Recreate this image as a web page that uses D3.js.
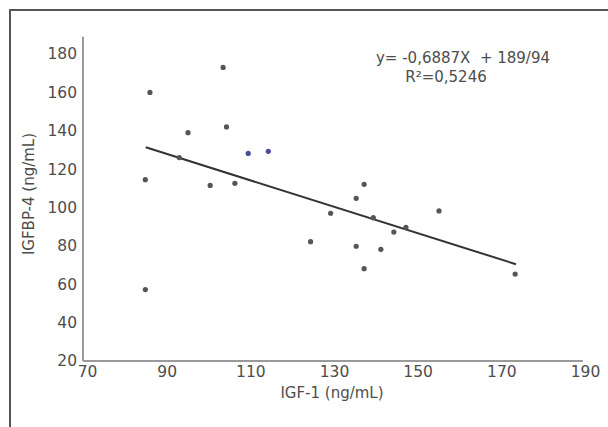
<!DOCTYPE html>
<html>
<head>
<meta charset="utf-8">
<script src="https://cdn.jsdelivr.net/npm/d3@7"></script>
<style>
    body { margin: 0; background: #fff; }
    svg { display: block; }
    text { font-family: "DejaVu Sans", Verdana, sans-serif; fill: #4d4d4d; }
</style>
</head>
<body>
<div id="chart"></div>
<script>
// IGF-1 vs IGFBP-4 values
const igf1 = [86, 103.5, 104.3, 95.1, 93, 84.9, 100.4, 106.3, 84.9, 124.4, 129.2,
    135.3, 137.2, 139.4, 155.1, 147.2, 144.3, 135.3, 141.2, 137.2, 173.3];
const igfbp4 = [160, 173, 142, 139, 126, 114.5, 111.5, 112.6, 57.2, 82.2, 97,
    104.8, 112.1, 94.7, 98.2, 89.7, 87.2, 79.8, 78.2, 68.1, 65.3];
// two points drawn in blue
const igf1Blue = [109.5, 114.3];
const igfbp4Blue = [128.2, 129.3];

const xTicks = [70, 90, 110, 130, 150, 170, 190];
const yTicks = [20, 40, 60, 80, 100, 120, 140, 160, 180];

const slope = -0.6887;
const intercept = 189.94;
const fitRange = [85, 173.5];
const eqLabel = 'y= -0,6887X  + 189/94';
const r2Label = 'R²=0,5246';

const width = 608, height = 427;

const svg = d3.select('#chart')
    .append('svg')
    .attr('width', width)
    .attr('height', height);

// outer frame (runs off the right and bottom)
svg.append('rect')
    .attr('x', 10)
    .attr('y', 10)
    .attr('width', 620)
    .attr('height', 440)
    .attr('fill', 'none')
    .attr('stroke', '#555')
    .attr('stroke-width', 2);

const x = d3.scaleLinear().domain([70, 190]).range([83, 585]);
const y = d3.scaleLinear().domain([20, 180]).range([361, 54]);

// axis lines
svg.append('line')
    .attr('x1', x(70)).attr('x2', x(70))
    .attr('y1', y(20)).attr('y2', y(189))
    .attr('stroke', '#9a9a9a').attr('stroke-width', 2);
svg.append('line')
    .attr('x1', x(70)).attr('x2', x(189.5))
    .attr('y1', y(20)).attr('y2', y(20))
    .attr('stroke', '#9a9a9a').attr('stroke-width', 2);

const yAxis = svg.append('g')
    .attr('transform', 'translate(' + x(70) + ',0)')
    .call(d3.axisLeft(y).tickValues(yTicks).tickSize(0).tickPadding(6));
yAxis.select('.domain').remove();

const xAxis = svg.append('g')
    .attr('transform', 'translate(0,' + y(20) + ')')
    .call(d3.axisBottom(x).tickValues(xTicks).tickSize(0).tickPadding(5));
xAxis.select('.domain').remove();

svg.selectAll('.tick text')
    .style('font-size', '15.5px')
    .style('font-family', '"DejaVu Sans", Verdana, sans-serif')
    .attr('fill', '#4d4d4d');
xAxis.selectAll('.tick text').filter(d => d === 70).attr('dx', 4);

// axis titles
svg.append('text')
    .attr('x', 332)
    .attr('y', 398)
    .attr('text-anchor', 'middle')
    .style('font-size', '15px')
    .text('IGF-1 (ng/mL)');

svg.append('text')
    .attr('transform', 'translate(34,194) rotate(-90)')
    .attr('text-anchor', 'middle')
    .style('font-size', '15px')
    .text('IGFBP-4 (ng/mL)');

// regression line
svg.append('line')
    .attr('x1', x(fitRange[0]))
    .attr('y1', y(slope * fitRange[0] + intercept))
    .attr('x2', x(fitRange[1]))
    .attr('y2', y(slope * fitRange[1] + intercept))
    .attr('stroke', '#333')
    .attr('stroke-width', 2);

// points
svg.selectAll('circle.pt')
    .data(igf1)
    .enter()
    .append('circle')
    .attr('class', 'pt')
    .attr('cx', d => x(d))
    .attr('cy', (d, i) => y(igfbp4[i]))
    .attr('r', 2.6)
    .attr('fill', '#555');

svg.selectAll('circle.blue')
    .data(igf1Blue)
    .enter()
    .append('circle')
    .attr('class', 'blue')
    .attr('cx', d => x(d))
    .attr('cy', (d, i) => y(igfbp4Blue[i]))
    .attr('r', 2.6)
    .attr('fill', '#4b4d9a');

// equation
svg.append('text')
    .attr('x', 463)
    .attr('y', 63)
    .attr('text-anchor', 'middle')
    .style('font-size', '15px')
    .style('white-space', 'pre')
    .text(eqLabel);

svg.append('text')
    .attr('x', 446)
    .attr('y', 82)
    .attr('text-anchor', 'middle')
    .style('font-size', '15px')
    .text(r2Label);
</script>
</body>
</html>
